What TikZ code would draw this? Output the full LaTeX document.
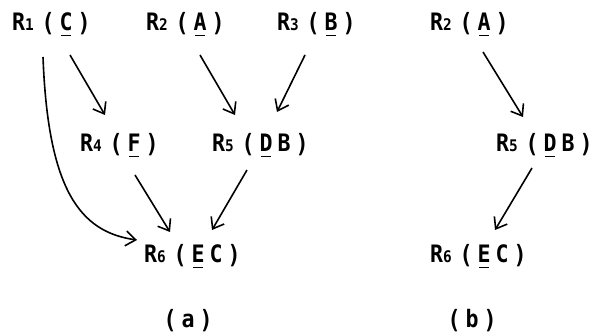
\documentclass[tikz,border=0pt]{standalone}
\usepackage{fontspec}
\setmainfont[FakeStretch=0.9,BoldFont={DejaVu Sans Mono Bold}]{DejaVu Sans Mono}
\usetikzlibrary{arrows.meta,calc}
\newcommand\subdig[1]{{\fontsize{16}{16}\selectfont #1}}
\newcommand\ulx[1]{\setbox0\hbox{#1}\hbox{\rlap{\hspace{1.5pt}\rule[-5.5pt]{\dimexpr\wd0-3pt\relax}{1.5pt}}\box0}}
\newcommand\lpar{\raisebox{-0.5pt}{\scalebox{1}[1.05]{(}}}
\newcommand\rpar{\raisebox{-0.5pt}{\scalebox{1}[1.05]{)}}}
\newcommand\labA[2]{\makebox[13pt][l]{R}\makebox[14pt][l]{\subdig{#1}}\makebox[18pt]{\lpar}\makebox[18pt]{\ulx{#2}}\makebox[18pt]{\rpar}}
\newcommand\labB[3]{\makebox[13pt][l]{R}\makebox[14pt][l]{\subdig{#1}}\makebox[18pt]{\lpar}\makebox[18pt]{\ulx{#2}}\makebox[18pt]{#3}\makebox[18pt]{\rpar}}
\newcommand\capt[1]{\makebox[18pt]{\lpar}\makebox[18pt]{#1}\makebox[18pt]{\rpar}}
\tikzset{
  lab/.style={anchor=base west, inner sep=0pt, font=\fontsize{24}{24}\selectfont\bfseries},
  arr/.style={line width=1.6pt, -{Straight Barb[length=10pt,width=15pt,line width=1.6pt]}}
}
\begin{document}
\begin{tikzpicture}[x=1pt,y=-1pt]
\useasboundingbox (0,0) rectangle (595,336);
% (a)
\node[lab] (r1) at (12,31) {\labA{1}{C}};
\node[lab] (r2) at (146,31) {\labA{2}{A}};
\node[lab] (r3) at (277,31) {\labA{3}{B}};
\node[lab] (r4) at (80,152) {\labA{4}{F}};
\node[lab] (r5) at (212,152) {\labB{5}{D}{B}};
\node[lab] (r6) at (144,263) {\labB{6}{E}{C}};
\node[lab] (ca) at (161,328) {\capt{a}};
% (b)
\node[lab] (q2) at (430,31) {\labA{2}{A}};
\node[lab] (q5) at (496,152) {\labB{5}{D}{B}};
\node[lab] (q6) at (430,263) {\labB{6}{E}{C}};
\node[lab] (cb) at (445,328) {\capt{b}};
% arrows (a)
\draw[arr] ($(r1.base west)+(58,24)$) -- ($(r4.base west)+(25,-37)$);
\draw[arr] ($(r2.base west)+(54,24)$) -- ($(r5.base west)+(23,-37)$);
\draw[arr] ($(r3.base west)+(28,24)$) -- ($(r5.base west)+(65,-40)$);
\draw[arr] ($(r4.base west)+(55,23)$) -- ($(r6.base west)+(26,-31)$);
\draw[arr] ($(r5.base west)+(35,18)$) -- ($(r6.base west)+(68,-33)$);
\draw[arr] ($(r1.base west)+(31,26)$) .. controls +(5,133) and +(-57,-8) .. ($(r6.base west)+(-7,-23)$);
% arrows (b)
\draw[arr] ($(q2.base west)+(53,21)$) -- ($(q5.base west)+(27,-35)$);
\draw[arr] ($(q5.base west)+(36,16)$) -- ($(q6.base west)+(65,-33)$);
\end{tikzpicture}
\end{document}
